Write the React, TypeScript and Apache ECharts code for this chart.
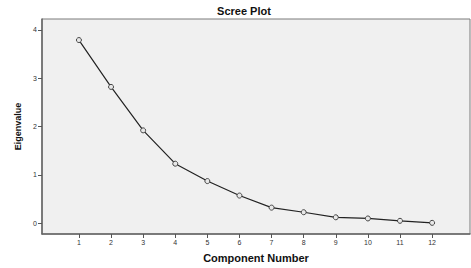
import React, { useEffect, useRef } from "react";
import * as echarts from "echarts";

const components = [1, 2, 3, 4, 5, 6, 7, 8, 9, 10, 11, 12];
const eigenvalues = [3.79, 2.82, 1.92, 1.23, 0.87, 0.57, 0.32, 0.225, 0.12, 0.096, 0.047, 0.005];
const yTicks = [0, 1, 2, 3, 4];

export default function App() {
  const ref = useRef<HTMLDivElement>(null);
  useEffect(() => {
    const chart = echarts.init(ref.current!, undefined, { renderer: "svg" });
    const font = "'Liberation Sans', Arial, sans-serif";
    chart.setOption({
      animation: false,
      backgroundColor: "#ffffff",
      title: {
        text: "Scree Plot",
        left: 239,
        top: 0,
        textAlign: "center",
        textStyle: { fontFamily: font, fontSize: 11, fontWeight: "bold", color: "#111" },
      },
      grid: {
        left: 42,
        top: 19,
        right: 1,
        bottom: 32,
        show: true,
        backgroundColor: "#f0f0f0",
        borderColor: "#7a7a7a",
        borderWidth: 1,
      },
      xAxis: {
        type: "value",
        min: -0.15,
        max: 13.18,
        name: "Component Number",
        nameLocation: "middle",
        nameGap: 18,
        nameTextStyle: { fontFamily: font, fontSize: 11, fontWeight: "bold", color: "#111" },
        axisLine: { show: true, onZero: false, lineStyle: { color: "#666", width: 1.5 } },
        axisTick: { show: true, length: 4, lineStyle: { color: "#555" }, customValues: components },
        axisLabel: { fontFamily: font, fontSize: 7, color: "#333", margin: 5, customValues: components },
        splitLine: { show: false },
      },
      yAxis: {
        type: "value",
        min: -0.226,
        max: 4.226,
        name: "Eigenvalue",
        nameLocation: "middle",
        nameGap: 19,
        nameRotate: 90,
        nameTextStyle: { fontFamily: font, fontSize: 9, fontWeight: "bold", color: "#111" },
        axisLine: { show: true, onZero: false, lineStyle: { color: "#666", width: 1.5 } },
        axisTick: { show: true, length: 4, lineStyle: { color: "#555" }, customValues: yTicks },
        axisLabel: { fontFamily: font, fontSize: 7, color: "#333", margin: 5, customValues: yTicks },
        splitLine: { show: false },
      },
      series: [
        {
          type: "line",
          data: components.map((c, i) => [c, eigenvalues[i]]),
          symbol: "circle",
          symbolSize: 5,
          showSymbol: true,
          lineStyle: { color: "#222", width: 1.2 },
          itemStyle: { color: "#e8e8e8", borderColor: "#444", borderWidth: 1 },
        },
      ],
    });
    return () => chart.dispose();
  }, []);
  return (
    <div
      ref={ref}
      style={{ position: "fixed", left: 0, top: 0, width: 471, height: 268 }}
    />
  );
}
